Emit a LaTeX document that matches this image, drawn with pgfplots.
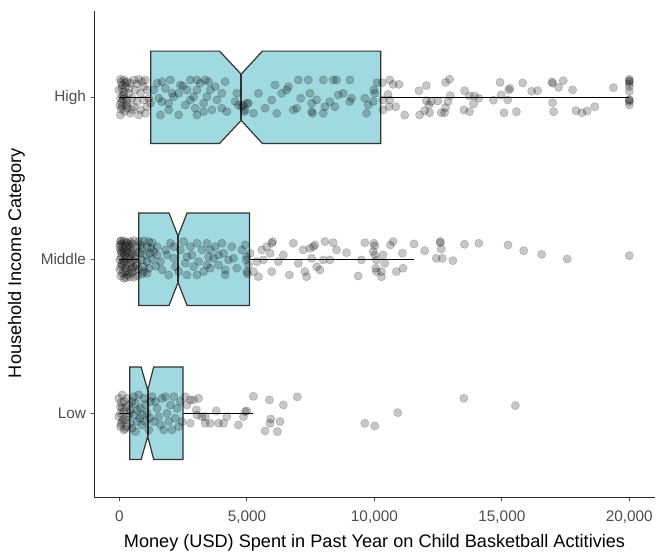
\documentclass[border=0pt]{standalone}
\usepackage{pgfplots}
\pgfplotsset{compat=1.18}
\usepackage{fontspec}
\setmainfont{Liberation Sans}
\definecolor{boxfill}{RGB}{160,218,224}
\definecolor{boxline}{RGB}{51,51,51}
\definecolor{tickgray}{RGB}{77,77,77}
\begin{document}
\begin{tikzpicture}
\begin{axis}[
  width=420.5pt, height=365pt, scale only axis,
  xmin=-990, xmax=21000, ymin=0.452, ymax=3.612,
  axis x line*=bottom, axis y line*=left,
  axis line style={line width=0.9pt, black!85, -},
  scaled x ticks=false,
  xtick={0,5000,10000,15000,20000},
  xticklabels={0,{5,000},{10,000},{15,000},{20,000}},
  ytick={1,2,3.052}, yticklabels={Low,Middle,High},
  tick align=outside, major tick length=2.7pt,
  tick style={tickgray, line width=0.7pt},
  ticklabel style={font=\fontsize{11.5}{13}\selectfont, text=tickgray},
  xticklabel style={yshift=-3.5pt},
  xlabel={Money (USD) Spent in Past Year on Child Basketball Actitivies},
  ylabel={Household Income Category},
  label style={font=\fontsize{13.6}{16}\selectfont},
  xlabel style={at={(axis description cs:0.5,-0.092)}, anchor=center},
  ylabel style={at={(axis description cs:-0.139,0.482)}, anchor=center},
  clip=false,
]
% whiskers
\addplot[black, line width=1pt] coordinates {(0,3.052) (1225,3.052)};
\addplot[black, line width=1pt] coordinates {(10250,3.052) (20000,3.052)};
\addplot[black, line width=1pt] coordinates {(0,2) (755,2)};
\addplot[black, line width=1pt] coordinates {(5098,2) (11561,2)};
\addplot[black, line width=1pt] coordinates {(0,1) (403,1)};
\addplot[black, line width=1pt] coordinates {(2492,1) (5254,1)};
% notched boxes
\addplot[fill=boxfill, draw=boxline, line width=0.9pt, line join=miter] coordinates {
 (1225,2.752) (3924,2.752) (4773,2.902) (5606,2.752) (10250,2.752)
 (10250,3.352) (5606,3.352) (4773,3.202) (3924,3.352) (1225,3.352)} -- cycle;
\addplot[boxline, line width=1.7pt] coordinates {(4773,2.902) (4773,3.202)};
\addplot[fill=boxfill, draw=boxline, line width=0.9pt, line join=miter] coordinates {
 (755,1.7) (1944,1.7) (2297,1.85) (2649,1.7) (5098,1.7)
 (5098,2.3) (2649,2.3) (2297,2.15) (1944,2.3) (755,2.3)} -- cycle;
\addplot[boxline, line width=1.7pt] coordinates {(2297,1.85) (2297,2.15)};
\addplot[fill=boxfill, draw=boxline, line width=0.9pt, line join=miter] coordinates {
 (403,0.7) (849,0.7) (1107,0.85) (1342,0.7) (2492,0.7)
 (2492,1.3) (1342,1.3) (1107,1.15) (849,1.3) (403,1.3)} -- cycle;
\addplot[boxline, line width=1.7pt] coordinates {(1107,0.85) (1107,1.15)};
% jittered points
\addplot[only marks, mark=*, mark size=3.1pt, mark options={fill=black, fill opacity=0.22, draw=black, draw opacity=0.25, line width=0.3pt}] table {
x y
39 3.169
170 3.165
300 3.154
104 3.132
235 3.121
430 3.143
561 3.165
756 3.169
887 3.154
1017 3.165
-26 3.100
170 3.089
365 3.078
626 3.100
822 3.078
1082 3.100
39 3.046
300 3.035
496 3.046
691 3.024
952 3.035
1148 3.046
104 2.991
300 2.981
561 2.991
822 2.970
1082 2.991
39 2.937
430 2.948
756 2.937
1017 2.948
300 3.013
170 3.067
1213 3.013
235 3.147
691 3.139
13 3.002
496 2.970
952 3.121
60 3.150
90 3.110
120 3.060
80 3.020
200 2.960
60 2.975
380 3.110
150 3.040
260 3.000
1343 3.100
1474 3.143
1669 3.154
1800 3.110
1995 3.165
2060 3.078
1539 3.046
1669 3.024
1930 3.013
2126 3.056
2386 3.132
2491 3.126
2321 3.078
2647 3.100
2778 3.035
2582 3.002
2908 3.056
3038 3.100
3169 3.143
3364 3.165
3495 3.154
3560 3.100
3430 3.056
3299 3.013
2973 2.981
3038 2.937
3299 2.959
3625 2.970
3821 3.035
4016 2.981
4147 3.154
4212 2.959
4016 3.078
2321 2.937
1930 2.970
1604 2.937
3756 3.121
2778 3.165
3038 3.165
4603 3.078
4538 3.024
4668 3.002
4864 3.002
4929 2.970
5059 3.013
5255 2.948
4799 2.991
4890 2.959
4994 3.013
5451 3.078
5712 2.981
5972 3.035
6103 3.132
6168 2.948
6363 3.078
6559 3.100
6624 3.121
6950 2.981
7016 3.165
7107 3.046
7407 3.165
7472 3.078
7537 3.013
7576 2.948
7733 3.035
7994 3.165
8059 2.991
8254 3.024
8385 3.165
8450 2.991
8515 3.165
8580 3.067
8776 3.078
9037 3.165
9037 3.024
9102 3.046
9624 3.046
9689 2.948
9754 3.002
7994 2.948
7537 2.959
6820 2.970
10106 3.147
10315 3.147
10601 3.165
10732 3.136
10967 3.136
9975 3.100
10015 3.078
10536 3.071
10601 3.035
10341 3.035
9949 3.024
10575 2.991
10836 2.991
10341 2.970
11188 2.937
11749 3.095
12036 3.128
12036 3.030
12231 3.024
12492 3.028
12140 3.002
11971 2.965
12166 2.952
11775 2.937
12792 3.149
12949 3.169
12975 3.063
12883 3.024
12792 2.985
12753 2.952
12623 2.952
13535 3.095
13731 3.061
13927 3.061
14096 3.046
13887 3.009
13509 2.970
13731 2.959
14670 3.033
14931 3.149
14970 3.067
15231 3.035
15270 3.100
15322 3.110
15087 2.952
15570 2.959
15817 3.145
16169 3.091
16404 3.095
16965 3.152
16991 3.143
17226 3.117
17408 3.160
17773 3.100
16991 3.017
17030 2.959
17904 2.965
18139 2.952
18347 2.963
18647 2.991
19377 3.115
20000 3.169
20000 3.154
20000 3.139
20000 3.121
20000 3.089
20000 3.035
20000 3.024
20000 3.002
20000 3.160
20000 3.035
39 2.115
170 2.121
300 2.108
430 2.115
561 2.121
756 2.115
952 2.121
1148 2.115
1278 2.108
13 2.082
143 2.071
274 2.087
404 2.078
535 2.065
691 2.082
887 2.071
1082 2.082
1239 2.071
65 2.039
196 2.028
326 2.043
496 2.035
626 2.022
822 2.039
1017 2.028
1187 2.039
13 1.996
170 1.985
365 2.000
535 1.991
691 1.978
887 1.996
1082 1.985
1278 2.000
39 1.952
235 1.942
404 1.957
561 1.948
756 1.935
952 1.952
1148 1.942
104 1.909
300 1.898
496 1.913
691 1.892
887 1.905
1082 1.909
170 1.877
561 1.883
104 2.100
235 2.056
430 1.974
104 1.963
300 1.926
626 1.926
822 2.093
39 2.061
274 2.013
952 1.920
60 2.120
240 2.110
370 2.095
500 2.100
80 2.050
160 2.045
330 2.060
450 2.050
60 2.010
230 2.000
420 2.015
600 2.005
90 1.970
280 1.965
480 1.940
20 1.930
200 1.915
380 1.910
50 1.890
250 1.880
400 1.885
30 2.095
700 2.045
650 1.960
1350 2.050
1420 1.955
1474 2.082
1604 1.985
1800 2.061
1865 2.028
1995 2.104
2126 2.006
2191 1.952
2321 1.920
2386 2.061
2517 2.115
2582 1.974
2647 1.898
2778 2.082
2843 2.028
2908 1.952
3038 2.104
3104 1.985
3234 2.061
3299 1.920
3430 2.104
3495 2.017
3560 1.942
3690 2.006
3756 2.082
3886 1.963
4016 2.104
4082 2.039
4147 1.931
4147 1.898
4277 1.996
4407 2.082
4473 2.006
4603 1.942
4799 2.061
4929 2.093
4994 2.017
4994 1.920
5059 1.963
5125 2.039
3038 1.898
2647 2.017
1669 1.931
1930 1.898
2126 2.082
1474 2.028
3430 1.963
3886 2.028
3560 2.061
4968 1.996
5020 1.905
5255 1.920
5386 1.985
5451 1.887
5581 2.061
5646 1.996
5777 2.082
5907 2.039
5972 2.104
6011 2.115
5972 1.920
6233 1.985
6428 2.028
6663 1.898
6820 2.104
7016 1.974
7211 2.061
7276 1.920
7342 1.887
7472 2.071
7537 2.006
7602 2.082
7668 2.093
7733 1.952
7863 1.931
7994 1.996
8059 2.115
8254 1.996
8385 2.108
8515 2.061
8906 2.043
9363 1.892
9493 1.996
9624 2.108
9975 2.104
10015 2.087
9949 2.050
10015 2.028
10080 1.996
10341 2.028
10406 1.974
10054 1.942
10080 1.920
10275 1.920
10275 1.887
10627 2.093
10732 2.115
11097 2.039
10862 1.920
11123 1.942
11553 2.100
11971 2.056
12427 2.006
12583 2.115
12583 2.108
12623 2.067
12662 2.006
13079 1.991
13535 2.097
14096 2.104
15244 2.093
15857 2.056
16561 2.032
17565 2.002
20000 2.024
-26 1.097
104 1.119
170 1.076
39 1.043
170 1.011
-26 0.978
104 0.946
39 0.913
170 0.892
300 1.097
365 1.054
430 1.022
326 0.978
430 0.935
496 0.903
561 1.108
626 1.065
561 0.989
691 0.946
626 0.881
756 1.119
822 1.032
795 0.968
887 0.924
952 1.097
1017 1.054
1082 1.000
1017 0.946
1148 0.892
1213 1.076
1278 1.108
1187 0.968
39 1.000
235 0.957
104 1.032
496 1.076
300 0.913
60 1.070
250 1.040
140 0.960
380 1.000
220 0.900
60 0.930
700 1.020
900 0.990
1408 1.076
1474 1.032
1539 0.978
1604 0.924
1669 1.097
1800 1.108
1865 1.000
1930 0.946
1995 1.054
2060 0.892
2126 1.108
2191 0.968
2256 1.032
2321 0.913
2386 1.076
2452 0.946
1734 0.892
1343 0.946
2582 1.108
2647 1.054
2778 1.087
2908 1.087
3104 1.097
2778 0.935
3012 1.022
3038 0.989
3234 0.978
3364 0.978
3364 0.935
3560 0.935
3795 1.015
3886 0.935
4082 0.935
4212 0.978
4668 0.924
4864 0.978
4929 1.011
4994 1.015
5255 1.110
5881 1.087
5933 0.963
5907 0.935
6298 0.946
6428 1.054
5711 0.885
6194 0.881
6976 1.106
9624 0.935
10015 0.918
10914 1.004
13509 1.097
15531 1.050
};
% page extent
\path (axis cs:-4688,0.106) rectangle (axis cs:21400,3.684);
\end{axis}
\end{tikzpicture}
\end{document}
